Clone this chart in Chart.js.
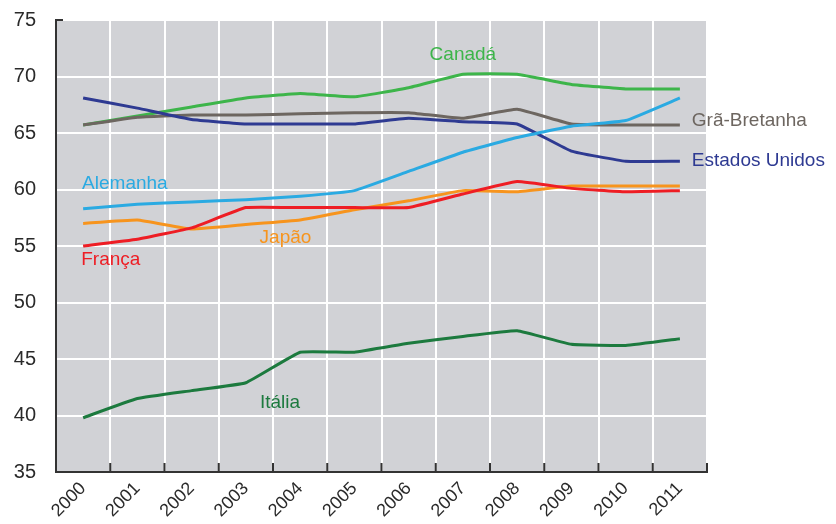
<!DOCTYPE html>
<html>
<head>
<meta charset="utf-8">
<script src="https://cdn.jsdelivr.net/npm/chart.js@4/dist/chart.umd.min.js"></script>
<style>
  html, body { margin: 0; padding: 0; background: #fff; }
  #box { width: 836px; height: 524px; }
</style>
</head>
<body>
<div id="box"><canvas id="grafico"></canvas></div>
<script>
const anos = ['2000', '2001', '2002', '2003', '2004', '2005', '2006', '2007', '2008', '2009', '2010', '2011'];
const yTicks = [35, 40, 45, 50, 55, 60, 65, 70, 75];

const canada = [65.7, 66.5, 67.3, 68.1, 68.5, 68.2, 69.0, 70.2, 70.2, 69.3, 68.9, 68.9];
const graBretanha = [65.7, 66.4, 66.6, 66.6, 66.7, 66.8, 66.8, 66.3, 67.1, 65.8, 65.7, 65.7];
const estadosUnidos = [68.1, 67.2, 66.2, 65.8, 65.8, 65.8, 66.3, 66.0, 65.8, 63.4, 62.5, 62.5];
const alemanha = [58.3, 58.7, 58.9, 59.1, 59.4, 59.9, 61.6, 63.3, 64.6, 65.6, 66.1, 68.1];
const japao = [57.0, 57.3, 56.5, 56.9, 57.3, 58.2, 59.0, 59.9, 59.8, 60.3, 60.3, 60.3];
const franca = [55.0, 55.6, 56.6, 58.4, 58.4, 58.4, 58.4, 59.6, 60.7, 60.1, 59.8, 59.9];
const italia = [39.8, 41.5, 42.2, 42.9, 45.6, 45.6, 46.4, 47.0, 47.5, 46.3, 46.2, 46.8];

const cores = {
  canada: '#3db54a',
  gra: '#6d6660',
  eua: '#2e3a92',
  alemanha: '#2aaae2',
  japao: '#f7941d',
  franca: '#ee1d24',
  italia: '#1c7a3e'
};

// rótulos das séries: posição em índice de categoria / valor
const rotulos = [
  { texto: 'Canadá', cor: cores.canada, i: 7, v: 71.9, align: 'center' },
  { texto: 'Grã-Bretanha', cor: cores.gra, i: 11.22, v: 66.1, align: 'left' },
  { texto: 'Estados Unidos', cor: cores.eua, i: 11.22, v: 62.5, align: 'left' },
  { texto: 'Alemanha', cor: cores.alemanha, i: 0.77, v: 60.5, align: 'center' },
  { texto: 'Japão', cor: cores.japao, i: 3.73, v: 55.7, align: 'center' },
  { texto: 'França', cor: cores.franca, i: 0.51, v: 53.8, align: 'center' },
  { texto: 'Itália', cor: cores.italia, i: 3.63, v: 41.1, align: 'center' }
];

const fonte = 'Liberation Sans, Arial, sans-serif';

const fundoPlugin = {
  id: 'fundo',
  beforeDraw(chart) {
    const a = chart.chartArea;
    const ctx = chart.ctx;
    ctx.save();
    ctx.fillStyle = '#d1d2d6';
    ctx.fillRect(a.left, a.top, a.right - a.left, a.bottom - a.top);
    ctx.restore();
  }
};

const extrasPlugin = {
  id: 'extras',
  afterDraw(chart) {
    const ctx = chart.ctx;
    const a = chart.chartArea;
    const x = chart.scales.x;
    const y = chart.scales.y;
    ctx.save();
    // marcas do eixo x viradas para dentro
    ctx.strokeStyle = '#333';
    ctx.lineWidth = 2;
    for (let i = 0; i <= anos.length; i++) {
      const px = x.getPixelForValue(i - 0.5);
      ctx.beginPath();
      ctx.moveTo(px, a.bottom);
      ctx.lineTo(px, a.bottom - 9);
      ctx.stroke();
    }
    ctx.beginPath();
    ctx.moveTo(a.left, a.top);
    ctx.lineTo(a.left + 7, a.top);
    ctx.stroke();
    // nomes das séries
    ctx.font = '19px ' + fonte;
    ctx.textBaseline = 'middle';
    rotulos.forEach(r => {
      ctx.fillStyle = r.cor;
      ctx.textAlign = r.align;
      ctx.fillText(r.texto, x.getPixelForValue(r.i), y.getPixelForValue(r.v));
    });
    ctx.restore();
  }
};

function serie(label, data, cor) {
  return {
    label: label,
    data: data,
    borderColor: cor,
    backgroundColor: cor,
    borderWidth: 3,
    pointRadius: 0,
    tension: 0.1,
    fill: false
  };
}

const ctx = document.getElementById('grafico').getContext('2d');
new Chart(ctx, {
  type: 'line',
  data: {
    labels: anos,
    datasets: [
      serie('Itália', italia, cores.italia),
      serie('França', franca, cores.franca),
      serie('Japão', japao, cores.japao),
      serie('Alemanha', alemanha, cores.alemanha),
      serie('Estados Unidos', estadosUnidos, cores.eua),
      serie('Grã-Bretanha', graBretanha, cores.gra),
      serie('Canadá', canada, cores.canada)
    ]
  },
  options: {
    responsive: true,
    maintainAspectRatio: false,
    animation: false,
    layout: {
      padding: { top: 20, right: 129, left: 0, bottom: 0 }
    },
    plugins: {
      legend: { display: false },
      tooltip: { enabled: false }
    },
    scales: {
      x: {
        offset: true,
        grid: { color: '#ffffff', lineWidth: 2, offset: true, drawTicks: false },
        border: { display: true, color: '#333', width: 2 },
        ticks: {
          color: '#2a2a2a',
          font: { family: fonte, size: 18 },
          minRotation: 45,
          maxRotation: 45,
          padding: 6
        },
        afterFit: scale => { scale.height = 52; }
      },
      y: {
        min: 35,
        max: 75,
        afterBuildTicks: scale => {
          scale.ticks = yTicks.map(v => ({ value: v }));
        },
        grid: { color: '#ffffff', lineWidth: 2, drawTicks: false },
        border: { display: true, color: '#333', width: 2 },
        ticks: {
          color: '#2a2a2a',
          font: { family: fonte, size: 20 },
          padding: 20
        },
        afterFit: scale => {
          scale.width = 56;
          scale.paddingTop = 0;
          scale.paddingBottom = 0;
        }
      }
    }
  },
  plugins: [fundoPlugin, extrasPlugin]
});
</script>
</body>
</html>
